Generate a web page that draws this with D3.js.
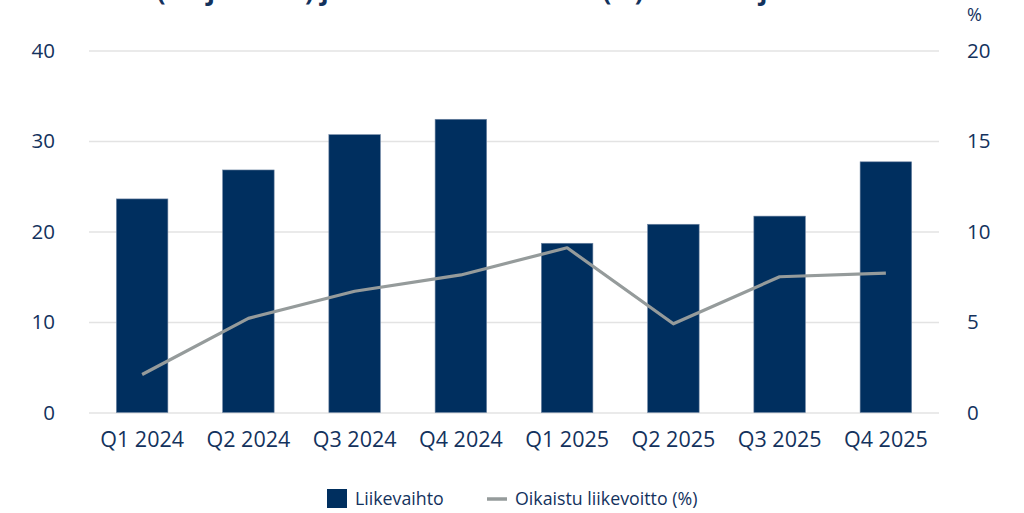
<!DOCTYPE html>
<html>
<head>
<meta charset="utf-8">
<script src="https://cdn.jsdelivr.net/npm/d3@7"></script>
<style>
  html, body { margin: 0; padding: 0; background: #ffffff; overflow: hidden; }
  svg { display: block; }
  text { font-family: "Open Sans", sans-serif; fill: #13325d; }
</style>
</head>
<body>
<svg id="chart" width="1024" height="513"></svg>
<script>
const categories = ["Q1 2024", "Q2 2024", "Q3 2024", "Q4 2024", "Q1 2025", "Q2 2025", "Q3 2025", "Q4 2025"];
const revenue = [23.6, 26.8, 30.7, 32.4, 18.7, 20.8, 21.7, 27.7];
const adjustedMargin = [2.1, 5.2, 6.7, 7.6, 9.1, 4.9, 7.5, 7.7];
const leftTicks = [0, 10, 20, 30, 40];
const rightTicks = [0, 5, 10, 15, 20];
const seriesNames = ["Liikevaihto", "Oikaistu liikevoitto (%)"];
const titleText = "Liikevaihto (milj. euroa) ja oikaistu liikevoitto (%) vuosineljänneksittäin";

const navy = "#002f5f";
const grey = "#959b9b";
const textColor = "#13325d";

const svg = d3.select("#chart");
const plot = { left: 89, right: 939, top: 50.5, bottom: 412.5 };

const x = d3.scaleBand().domain(categories).range([plot.left, plot.right]).paddingInner(0.515).paddingOuter(0.2575);
const yL = d3.scaleLinear().domain([0, 40]).range([plot.bottom, plot.top]);
const yR = d3.scaleLinear().domain([0, 20]).range([plot.bottom, plot.top]);

// title (cut off at the top edge, as in the reference)
svg.append("text")
  .attr("x", 5).attr("y", 0)
  .attr("font-size", 26).attr("font-weight", 700)
  .style("fill", textColor)
  .text(titleText);

// gridlines
const grid = svg.append("g")
  .attr("transform", `translate(${plot.left},0)`)
  .call(d3.axisLeft(yL).tickValues(leftTicks).tickSize(-(plot.right - plot.left)).tickFormat(""));
grid.select(".domain").remove();
grid.selectAll(".tick line").attr("stroke", "#e3e3e3").attr("stroke-width", 1.5);

// left axis labels
const axL = svg.append("g")
  .attr("transform", `translate(${plot.left},0)`)
  .call(d3.axisLeft(yL).tickValues(leftTicks).tickSize(0).tickPadding(34));
axL.select(".domain").remove();
axL.selectAll("text").attr("font-size", 20.5).style("fill", textColor).attr("font-family", "Open Sans, sans-serif");

// right axis labels
const axR = svg.append("g")
  .attr("transform", `translate(${plot.right},0)`)
  .call(d3.axisRight(yR).tickValues(rightTicks).tickSize(0).tickPadding(28));
axR.select(".domain").remove();
axR.selectAll("text").attr("font-size", 20.5).style("fill", textColor).attr("font-family", "Open Sans, sans-serif");

svg.append("text")
  .attr("x", 967).attr("y", 21)
  .attr("font-size", 18)
  .style("fill", textColor)
  .text("%");

// bars
svg.append("g").selectAll("rect")
  .data(categories)
  .join("rect")
  .attr("x", d => x(d))
  .attr("width", x.bandwidth())
  .attr("y", (d, i) => yL(revenue[i]))
  .attr("height", (d, i) => yL(0) - yL(revenue[i]))
  .attr("fill", navy)
  .attr("stroke", "#6f86a3")
  .attr("stroke-width", 0.6);

// x axis labels
const axX = svg.append("g")
  .attr("transform", `translate(0,${plot.bottom})`)
  .call(d3.axisBottom(x).tickSize(0).tickPadding(19));
axX.select(".domain").remove();
axX.selectAll("text").attr("font-size", 21.5).style("fill", textColor).attr("font-family", "Open Sans, sans-serif");

// line
const line = d3.line()
  .x((d, i) => x(categories[i]) + x.bandwidth() / 2)
  .y(d => yR(d));
svg.append("path")
  .datum(adjustedMargin)
  .attr("d", line)
  .attr("fill", "none")
  .attr("stroke", grey)
  .attr("stroke-width", 3.2)
  .attr("stroke-linejoin", "round");

// legend
const lg = svg.append("g");
lg.append("rect").attr("x", 327).attr("y", 489).attr("width", 20).attr("height", 19).attr("fill", navy);
lg.append("text").attr("x", 355).attr("y", 504.5).attr("font-size", 17.8).text(seriesNames[0]);
lg.append("line").attr("x1", 487).attr("x2", 507).attr("y1", 499).attr("y2", 499)
  .attr("stroke", grey).attr("stroke-width", 3.5);
lg.append("text").attr("x", 515).attr("y", 504.5).attr("font-size", 17.8).text(seriesNames[1]);
</script>
</body>
</html>
